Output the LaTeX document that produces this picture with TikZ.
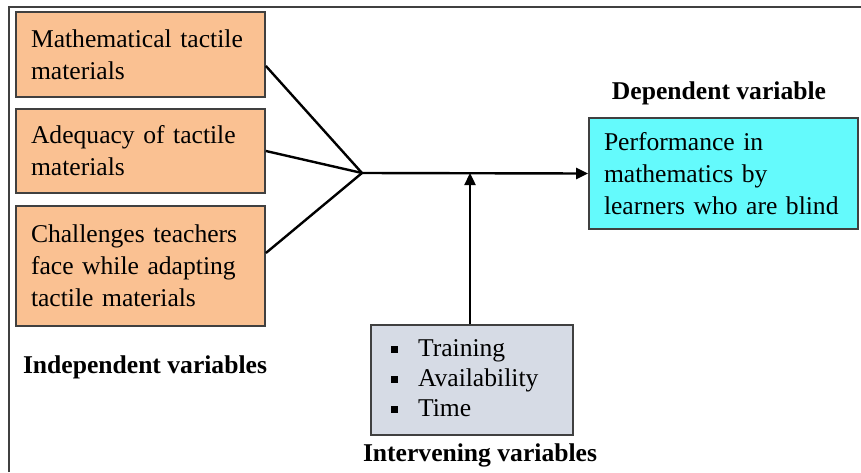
\documentclass[tikz,border=0pt]{standalone}
\usepackage{fontspec}
\setmainfont{Liberation Serif}
\usetikzlibrary{arrows.meta}

\definecolor{tanfill}{RGB}{250,193,146}
\definecolor{cyanfill}{RGB}{100,250,252}
\definecolor{greyfill}{RGB}{214,219,229}
\definecolor{edgegrey}{RGB}{64,64,64}

\tikzset{
    varbox/.style={draw=edgegrey, line width=1.8pt, inner xsep=15pt, inner ysep=0pt,
        align=left, font=\fontsize{25.6}{32}\selectfont},
    heading/.style={font=\fontsize{25.6}{30}\selectfont\bfseries},
    link/.style={line width=2.4pt},
    flow/.style={link, -{Triangle[length=12pt,width=11pt]}}
}

\begin{document}
\begin{tikzpicture}[x=1pt,y=-1pt]
    \useasboundingbox (0,0) rectangle (861,472);
    %frame
    \draw[edgegrey, line width=1.5pt] (9,472) -- (9,7) -- (861,7);
    %independent side
    \node[varbox, fill=tanfill, text width=219pt, minimum height=85pt] (math) at (140.5,54.5)
        {Mathematical tactile\\materials};
    \node[varbox, fill=tanfill, text width=219pt, minimum height=84pt] (adeq) at (140.5,151)
        {Adequacy of tactile\\materials};
    \node[varbox, fill=tanfill, text width=219pt, minimum height=120pt] (chal) at (140.5,266)
        {Challenges teachers\\face while adapting\\tactile materials};
    \node[heading] (indep) at (145,367) {Independent variables};
    %dependent side
    \node[varbox, fill=cyanfill, text width=239pt, minimum height=111pt] (perf) at (723.5,173.5)
        {Performance in\\mathematics by\\learners who are blind};
    \node[heading] (dep) at (719,93) {Dependent variable};
    %intervening
    \node[varbox, fill=greyfill, inner xsep=20pt, text width=162pt, minimum height=110pt] (interv) at (472,380)
        {\begin{tabular}{@{}l@{\hspace{20pt}}l@{}}
            \rule[3pt]{7pt}{7pt} & Training\\[-2pt]
            \rule[3pt]{7pt}{7pt} & Availability\\[-2pt]
            \rule[3pt]{7pt}{7pt} & Time
        \end{tabular}};
    \node[heading] (intervlab) at (480,455) {Intervening variables};
    %links
    \coordinate (j) at (362,173);
    \draw[link] ([yshift=-11.5pt]math.east) -- (j);
    \draw[link] (adeq.east) -- (j);
    \draw[link] ([yshift=13pt]chal.east) -- (j);
    \draw[flow] (j) -- (perf.west);
    \draw[flow] ([xshift=-2pt]interv.north) -- ([xshift=-2pt]interv.north |- j);
\end{tikzpicture}
\end{document}
